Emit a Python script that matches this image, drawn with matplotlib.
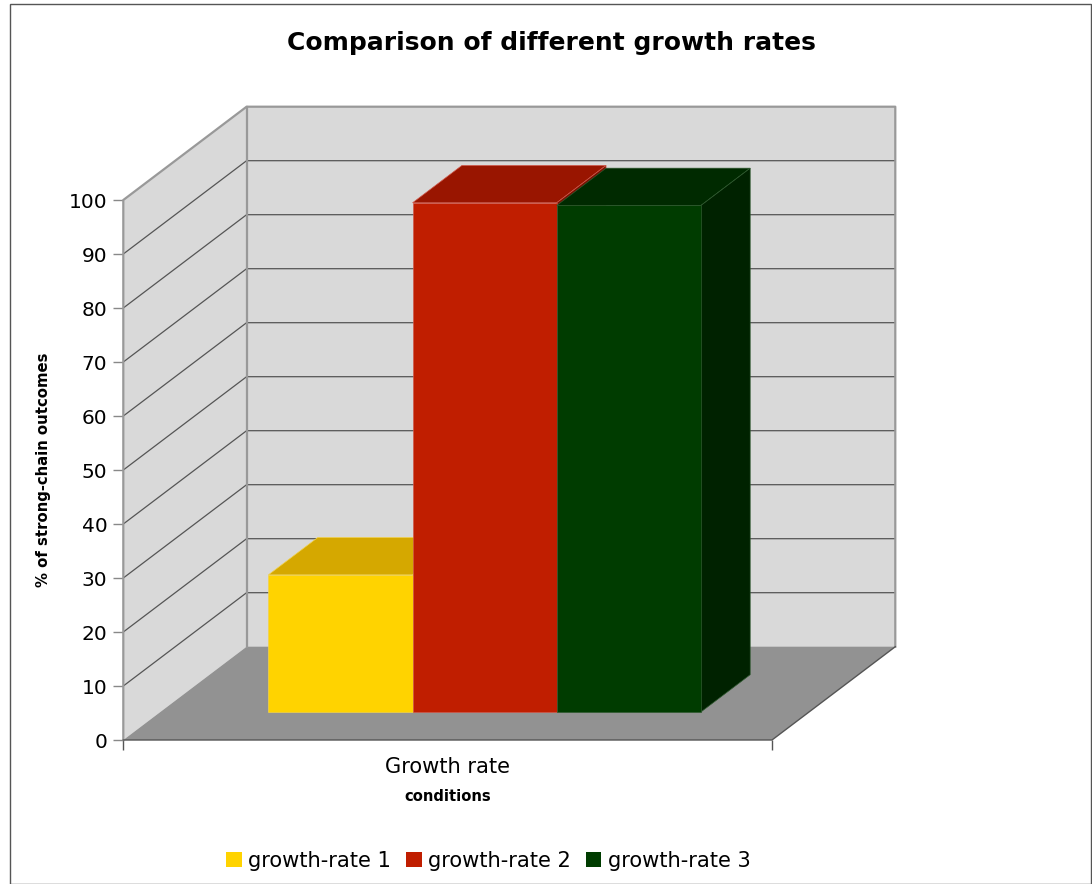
import matplotlib
matplotlib.use("Agg")
import matplotlib.pyplot as plt
from matplotlib.patches import Polygon, Rectangle, Patch

# ---------------- data ----------------
title = "Comparison of different growth rates"
category = "Growth rate"
series_names = ["growth-rate 1", "growth-rate 2", "growth-rate 3"]
values = [25.4, 94.3, 93.8]
y_ticks = [0, 10, 20, 30, 40, 50, 60, 70, 80, 90, 100]
y_label = "% of strong-chain outcomes"
x_label = "conditions"

front_colors = ["#ffd300", "#c01e00", "#003c00"]
top_colors = ["#d5a800", "#991500", "#002a00"]
side_colors = ["#b08c00", "#7a1000", "#002200"]
edge_colors = ["#f2d24a", "#d0584a", "#2f5a2f"]

# ---------------- figure ----------------
W, H = 1092, 884
fig = plt.figure(figsize=(W / 100, H / 100), dpi=100)
fig.patch.set_facecolor("white")

# front plane of the 3-D box
ax = fig.add_axes([123.3 / W, 144 / H, 648.7 / W, 540 / H])
ax.set_xlim(0, 1)
ax.set_ylim(y_ticks[0], y_ticks[-1])
ax.patch.set_visible(False)
for s in ax.spines.values():
    s.set_visible(False)

# oblique depth offset, expressed in data units
DX = 123.3 / 648.7
DY = 93.3 / 5.4


def P(x, v, d):
    return (x + d * DX, v + d * DY)


YMAX = y_ticks[-1]
YMIN = y_ticks[0]

# walls and floor
ax.add_patch(Polygon([P(0, YMIN, 1), P(1, YMIN, 1), P(1, YMAX, 1), P(0, YMAX, 1)],
                     closed=True, fc="#d9d9d9", ec="none", clip_on=False, zorder=1))
ax.add_patch(Polygon([P(0, YMIN, 0), P(0, YMIN, 1), P(0, YMAX, 1), P(0, YMAX, 0)],
                     closed=True, fc="#d9d9d9", ec="none", clip_on=False, zorder=1))
ax.add_patch(Polygon([P(0, YMIN, 0), P(1, YMIN, 0), P(1, YMIN, 1), P(0, YMIN, 1)],
                     closed=True, fc="#929292", ec="none", clip_on=False, zorder=1))

# grid lines on left and back walls
for t in y_ticks[1:-1]:
    pts = [P(0, t, 0), P(0, t, 1), P(1, t, 1)]
    ax.plot([p[0] for p in pts], [p[1] for p in pts], color="#555555", lw=0.9,
            clip_on=False, zorder=2, solid_capstyle="butt")

# wall outlines
pts = [P(0, YMIN, 0), P(0, YMAX, 0), P(0, YMAX, 1), P(1, YMAX, 1), P(1, YMIN, 1)]
ax.plot([p[0] for p in pts], [p[1] for p in pts], color="#999999", lw=1.6,
        clip_on=False, zorder=3)
pts = [P(0, YMIN, 1), P(0, YMAX, 1)]
ax.plot([p[0] for p in pts], [p[1] for p in pts], color="#999999", lw=1.6,
        clip_on=False, zorder=3)
# floor edges
pts = [P(0, YMIN, 0), P(1, YMIN, 0), P(1, YMIN, 1)]
ax.plot([p[0] for p in pts], [p[1] for p in pts], color="#555555", lw=1.0,
        clip_on=False, zorder=3)

# bars
n = len(values)
group_start, group_width = 1 / 6, 2 / 3
bw = group_width / n
d0, d1 = 0.3, 0.7
for i, v in enumerate(values):
    x0 = group_start + i * bw
    x1 = x0 + bw
    z = 5 + i
    top = [P(x0, v, d0), P(x1, v, d0), P(x1, v, d1), P(x0, v, d1)]
    side = [P(x1, YMIN, d0), P(x1, YMIN, d1), P(x1, v, d1), P(x1, v, d0)]
    front = [P(x0, YMIN, d0), P(x1, YMIN, d0), P(x1, v, d0), P(x0, v, d0)]
    ax.add_patch(Polygon(top, closed=True, fc=top_colors[i], ec=edge_colors[i],
                         lw=0.5, clip_on=False, zorder=z))
    ax.add_patch(Polygon(side, closed=True, fc=side_colors[i], ec=edge_colors[i],
                         lw=0.5, clip_on=False, zorder=z))
    ax.add_patch(Polygon(front, closed=True, fc=front_colors[i], ec=edge_colors[i],
                         lw=0.5, clip_on=False, zorder=z))

# y axis
ax.set_yticks(y_ticks)
ax.set_yticklabels([str(t) for t in y_ticks])
ax.tick_params(axis="y", direction="out", length=7.2, width=1.0, color="#888888",
               labelsize=14.5, pad=4.3)
ax.set_ylabel(y_label, fontsize=10.7, fontweight="bold")
ax.yaxis.set_label_coords(-0.112, 0.5)

# x axis
ax.set_xticks([0.5])
ax.set_xticklabels([category])
ax.set_xticks([0, 1], minor=True)
ax.tick_params(axis="x", which="major", length=0, pad=12.5, labelsize=15.1)
ax.tick_params(axis="x", which="minor", direction="out", length=7.2, width=1.0,
               color="#555555")
ax.set_xlabel(x_label, fontsize=10.6, fontweight="bold")
ax.xaxis.set_label_coords(0.5, -0.09)

# title
fig.text(551.7 / W, 1 - 50 / H, title, ha="center", va="baseline",
         fontsize=18, fontweight="bold")

# legend
handles = [Patch(fc=c, ec="none", label=nm) for c, nm in zip(front_colors, series_names)]
fig.legend(handles=handles, loc="center", bbox_to_anchor=(488.4 / W, 1 - 861 / H),
           ncol=3, frameon=False, fontsize=15.1, handlelength=0.75, handleheight=0.75,
           handletextpad=0.3, columnspacing=0.7, borderpad=0, borderaxespad=0)

# outer border
fig.add_artist(Rectangle((9.5 / W, 0), (1091 - 9.5) / W, 1 - 3.5 / H,
                         transform=fig.transFigure, fill=False, ec="#555555", lw=1.0))

fig.savefig("out.png", dpi=100)
